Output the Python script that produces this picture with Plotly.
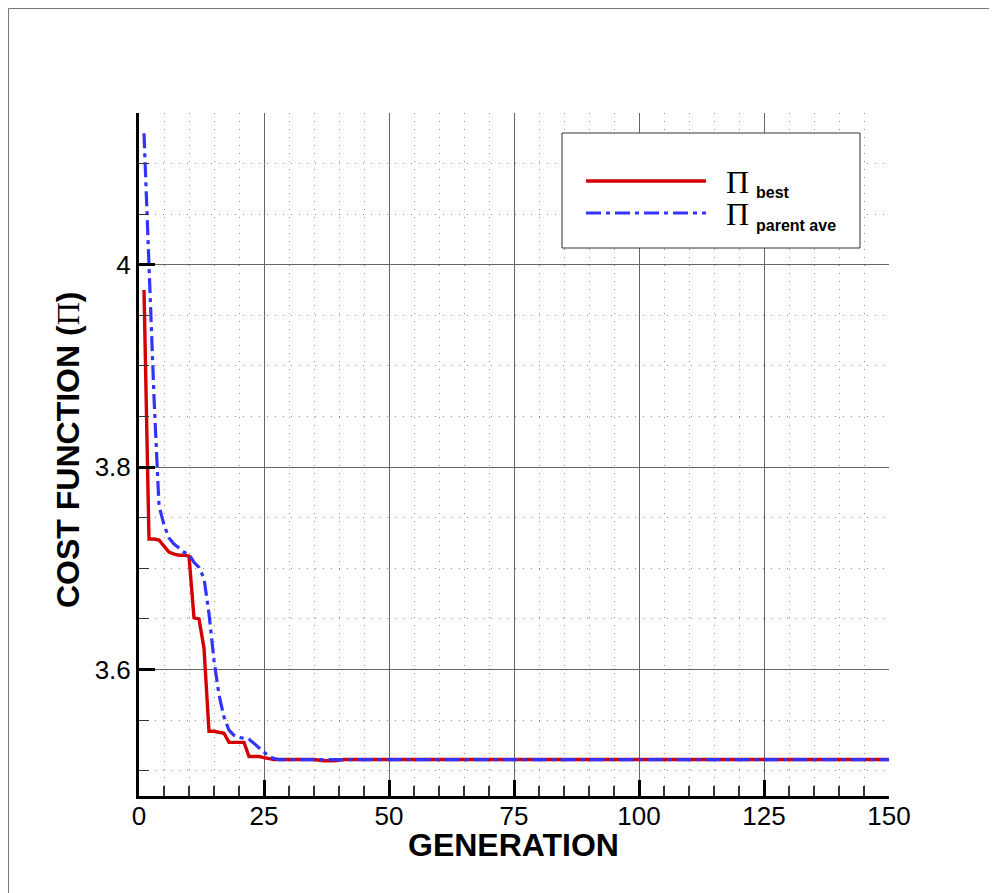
import plotly.graph_objects as go

# ---- data ----
gen_best = [1, 2, 3, 4, 5, 6, 7, 8, 9, 10, 11, 12, 13, 14, 15, 16, 17, 18, 19, 20,
            21, 22, 23, 24, 25, 26, 27, 28, 30, 35, 37, 39, 41, 45, 50, 60, 75, 100, 125, 150]
cost_best = [3.975, 3.729, 3.729, 3.728, 3.722, 3.716, 3.714, 3.713, 3.713, 3.712,
             3.651, 3.650, 3.621, 3.539, 3.539, 3.538, 3.537, 3.528, 3.528, 3.528,
             3.528, 3.514, 3.514, 3.514, 3.513, 3.512, 3.511, 3.511, 3.511, 3.511,
             3.5098, 3.5098, 3.511, 3.511, 3.511, 3.511, 3.511, 3.511, 3.511, 3.511]

gen_ave = [1, 2, 3, 4, 5, 6, 7, 8, 9, 10, 11, 12, 13, 14, 15, 16, 17, 18, 19, 20,
           21, 22, 23, 24, 25, 26, 27, 28, 30, 35, 40, 42, 44, 50, 75, 100, 125, 150]
cost_ave = [4.130, 3.994, 3.869, 3.762, 3.743, 3.730, 3.724, 3.720, 3.716, 3.714,
            3.706, 3.701, 3.690, 3.655, 3.609, 3.575, 3.553, 3.540, 3.535, 3.533,
            3.532, 3.531, 3.527, 3.523, 3.518, 3.514, 3.512, 3.511, 3.511, 3.511,
            3.511, 3.5115, 3.511, 3.511, 3.511, 3.511, 3.511, 3.511]

x_ticks = [0, 25, 50, 75, 100, 125, 150]
y_ticks = [3.6, 3.8, 4.0]
y_tick_text = ["3.6", "3.8", "4"]

PI = "Π"
label_best = "best"
label_ave = "parent ave"
x_title = "GENERATION"
y_title = ("COST FUNCTION (<span style='font-family:Liberation Serif, DejaVu Serif, serif;"
           "font-weight:normal'>" + PI + "</span>)")

RED = "#d40000"
BLUE = "#3333ff"
SANS = "Liberation Sans, Arial, sans-serif"
SERIF = "Liberation Serif, DejaVu Serif, serif"
BLUE_DASH = "15px,5px,4px,5px"

fig = go.Figure()
fig.add_trace(go.Scatter(x=gen_best, y=cost_best, mode="lines",
                         line=dict(color=RED, width=3.4), name="best", showlegend=False))
fig.add_trace(go.Scatter(x=gen_ave, y=cost_ave, mode="lines",
                         line=dict(color=BLUE, width=3.2, dash=BLUE_DASH),
                         name="parent ave", showlegend=False))

OFF = 8  # page body margin
W, H = 985, 885
L, T = 139 - OFF, 113 - OFF
pw, ph = 750, 683
R = W - L - pw
B = H - T - ph


def px(xs):
    """screen x (reference pixels) -> paper x"""
    return (xs - OFF - L) / pw


def py(ys):
    """screen y (reference pixels) -> paper y"""
    return (T + ph - (ys - OFF)) / ph


axis_common = dict(
    showline=True, linewidth=3, linecolor="black",
    ticks="inside", ticklen=16, tickwidth=3, tickcolor="black",
    showgrid=True, gridcolor="#666666", gridwidth=1,
    zeroline=False,
    tickfont=dict(family=SANS, size=26, color="black"),
)

fig.update_xaxes(
    range=[0, 150], tickvals=x_ticks, ticklabelstandoff=-5,
    minor=dict(dtick=5, ticks="inside", ticklen=10, tickwidth=1.5, tickcolor="#333333",
               showgrid=True, gridcolor="#8a8a8a", griddash="1px,7px", gridwidth=1),
    **axis_common,
)
fig.update_yaxes(
    range=[3.475, 4.15], tickvals=y_ticks, ticktext=y_tick_text,
    minor=dict(dtick=0.05, tick0=3.5, ticks="inside", ticklen=10, tickwidth=1.2, tickcolor="#333333",
               showgrid=True, gridcolor="#8a8a8a", griddash="1px,7px", gridwidth=1),
    **axis_common,
)

shapes = []
annotations = []

# outer frame (top and left edges of the page frame)
shapes.append(dict(type="line", xref="paper", yref="paper",
                   x0=px(8.5), x1=px(1000), y0=py(8.5), y1=py(8.5),
                   line=dict(color="#777777", width=1), layer="above"))
shapes.append(dict(type="line", xref="paper", yref="paper",
                   x0=px(8.5), x1=px(8.5), y0=py(8.5), y1=py(900),
                   line=dict(color="#777777", width=1), layer="above"))

# legend box
shapes.append(dict(type="rect", xref="paper", yref="paper",
                   x0=px(562), x1=px(860), y0=py(248), y1=py(133),
                   line=dict(color="#333333", width=1), fillcolor="white", layer="above"))
shapes.append(dict(type="line", xref="paper", yref="paper",
                   x0=px(586), x1=px(706), y0=py(181), y1=py(181),
                   line=dict(color=RED, width=3.4), layer="above"))
shapes.append(dict(type="line", xref="paper", yref="paper",
                   x0=px(586), x1=px(706), y0=py(213), y1=py(213),
                   line=dict(color=BLUE, width=3.2, dash=BLUE_DASH), layer="above"))

for yc, lab, ys in [(182, label_best, 192), (214, label_ave, 225)]:
    annotations.append(dict(xref="paper", yref="paper", x=px(737), y=py(yc),
                            text=PI, showarrow=False, xanchor="center", yanchor="middle",
                            font=dict(family=SERIF, size=32, color="black")))
    annotations.append(dict(xref="paper", yref="paper", x=px(754), y=py(ys),
                            text="<b>" + lab + "</b>", showarrow=False, xanchor="left", yanchor="middle",
                            font=dict(family=SANS, size=16, color="black")))

# axis titles
annotations.append(dict(xref="paper", yref="paper", x=px(513), y=py(845),
                        text="<b>" + x_title + "</b>", showarrow=False,
                        xanchor="center", yanchor="middle",
                        font=dict(family=SANS, size=32, color="black")))
annotations.append(dict(xref="paper", yref="paper", x=px(68), y=py(450),
                        text="<b>" + y_title + "</b>", showarrow=False, textangle=-90,
                        xanchor="center", yanchor="middle",
                        font=dict(family=SANS, size=32, color="black")))

fig.update_layout(
    width=W, height=H,
    margin=dict(l=L, r=R, t=T, b=B),
    paper_bgcolor="white", plot_bgcolor="white",
    shapes=shapes, annotations=annotations,
    showlegend=False,
)

fig.write_html("out.html")
